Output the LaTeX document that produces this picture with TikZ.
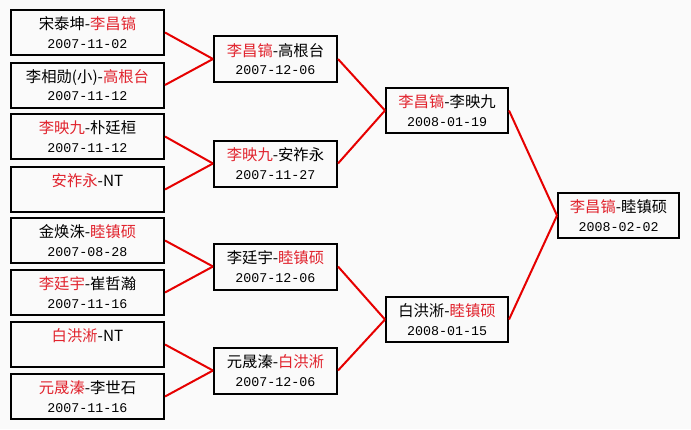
\documentclass[tikz,border=0pt]{standalone}
\usepackage{fontspec}
\setmainfont{Noto Sans CJK SC}
\newfontfamily\datefont{Liberation Mono}
\definecolor{redtxt}{RGB}{225,35,45}
\definecolor{linkred}{RGB}{230,0,0}
\definecolor{bgc}{RGB}{250,250,250}
\newcommand\Rd[1]{\textcolor{redtxt}{#1}}
\newcommand\Dt[1]{{\datefont\fontsize{10}{14}\selectfont #1}}
\begin{document}
\begin{tikzpicture}[x=0.75pt,y=-0.75pt,
  box/.style={draw=black, line width=1.5pt, inner sep=0pt, align=center,
    font=\fontsize{11.5}{14}\selectfont},
  boxA/.style={box, minimum width=114.75pt, minimum height=33.75pt},
  boxB/.style={box, minimum width=92.25pt, minimum height=34.5pt},
  boxC/.style={box, minimum width=91.5pt, minimum height=33.75pt},
  boxD/.style={box, minimum width=90.75pt, minimum height=33.75pt},
  link/.style={draw=linkred, line width=1.5pt}]
\fill[bgc] (0,0) rectangle (691,429);
\useasboundingbox (0,0) rectangle (691,429);
% round 1
\node[boxA] (a1) at (87.5,32.5) {宋泰坤-\Rd{李昌镐}\\\Dt{2007-11-02}};
\node[boxA] (a2) at (87.5,85) {李相勋(小)-\Rd{高根台}\\\Dt{2007-11-12}};
\node[boxA] (a3) at (87.5,136.5) {\Rd{李映九}-朴廷桓\\\Dt{2007-11-12}};
\node[boxA] (a4) at (87.5,189.5) {\Rd{安祚永}-NT\\\phantom{\Dt{0}}};
\node[boxA] (a5) at (87.5,240.5) {金焕洙-\Rd{睦镇硕}\\\Dt{2007-08-28}};
\node[boxA] (a6) at (87.5,292.5) {\Rd{李廷宇}-崔哲瀚\\\Dt{2007-11-16}};
\node[boxA] (a7) at (87.5,344.5) {\Rd{白洪淅}-NT\\\phantom{\Dt{0}}};
\node[boxA] (a8) at (87.5,396.5) {\Rd{元晟溱}-李世石\\\Dt{2007-11-16}};
% round 2
\node[boxB] (b1) at (275.5,59) {\Rd{李昌镐}-高根台\\\Dt{2007-12-06}};
\node[boxB] (b2) at (275.5,163.5) {\Rd{李映九}-安祚永\\\Dt{2007-11-27}};
\node[boxB] (b3) at (275.5,266.5) {李廷宇-\Rd{睦镇硕}\\\Dt{2007-12-06}};
\node[boxB] (b4) at (275.5,370.5) {元晟溱-\Rd{白洪淅}\\\Dt{2007-12-06}};
% round 3
\node[boxC] (c1) at (447,110.5) {\Rd{李昌镐}-李映九\\\Dt{2008-01-19}};
\node[boxC] (c2) at (447,319.5) {白洪淅-\Rd{睦镇硕}\\\Dt{2008-01-15}};
% final
\node[boxD] (d1) at (618.5,215.5) {\Rd{李昌镐}-睦镇硕\\\Dt{2008-02-02}};
% links
\draw[link] (a1.east) -- (b1.west);
\draw[link] (a2.east) -- (b1.west);
\draw[link] (a3.east) -- (b2.west);
\draw[link] (a4.east) -- (b2.west);
\draw[link] (a5.east) -- (b3.west);
\draw[link] (a6.east) -- (b3.west);
\draw[link] (a7.east) -- (b4.west);
\draw[link] (a8.east) -- (b4.west);
\draw[link] (b1.east) -- (c1.west);
\draw[link] (b2.east) -- (c1.west);
\draw[link] (b3.east) -- (c2.west);
\draw[link] (b4.east) -- (c2.west);
\draw[link] (c1.east) -- (d1.west);
\draw[link] (c2.east) -- (d1.west);
\end{tikzpicture}
\end{document}
